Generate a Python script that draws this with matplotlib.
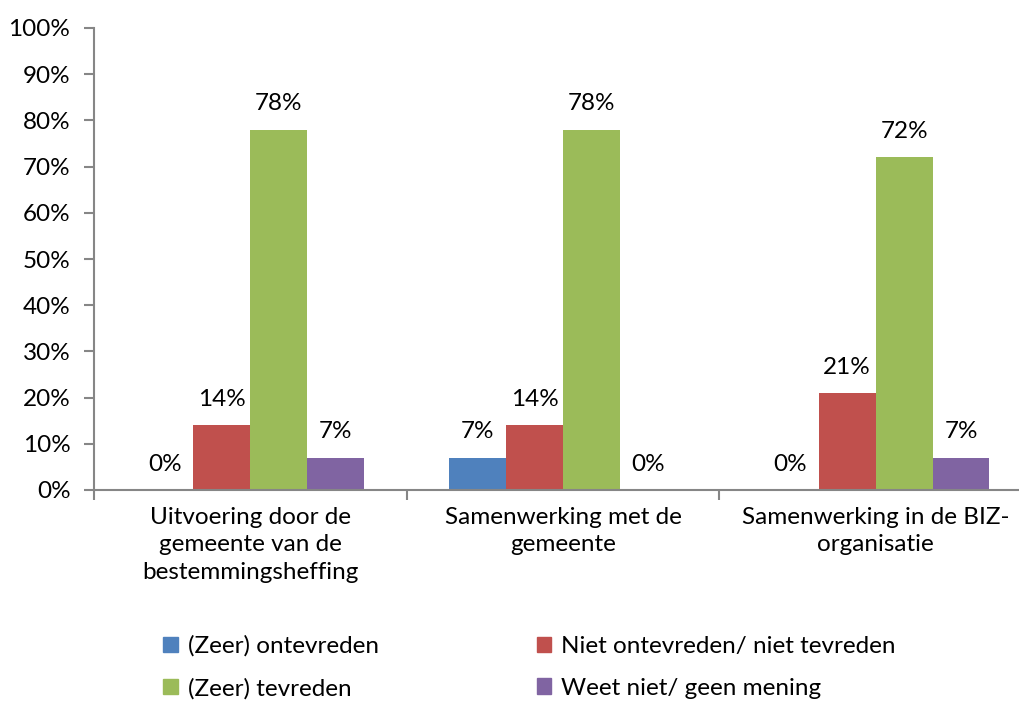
import numpy as np
import matplotlib.pyplot as plt
from matplotlib.patches import Patch

# ======================== Data ========================
categories = ["Uitvoering door de\ngemeente van de\nbestemmingsheffing",
              "Samenwerking met de\ngemeente",
              "Samenwerking in de BIZ-\norganisatie"]
series_names = ["(Zeer) ontevreden", "Niet ontevreden/ niet tevreden",
                "(Zeer) tevreden", "Weet niet/ geen mening"]
zeer_ontevreden = [0, 7, 0]
niet_ontevreden = [14, 14, 21]
zeer_tevreden = [78, 78, 72]
weet_niet = [7, 0, 7]
colors = ["#4F81BD", "#C0504D", "#9BBB59", "#8064A2"]

plt.rcParams['font.family'] = ['Lato', 'DejaVu Sans']
fs = 17.5

fig = plt.figure(figsize=(10.2, 7.04), dpi=100)
ax = fig.add_axes([94 / 1020, 1 - 490 / 704, (1032 - 94) / 1020, (490 - 28) / 704])

x = np.arange(len(categories))
w = 0.182
series = [zeer_ontevreden, niet_ontevreden, zeer_tevreden, weet_niet]
for i, (vals, c) in enumerate(zip(series, colors)):
    pos = x + (i - 1.5) * w
    ax.bar(pos, vals, width=w, color=c, label=series_names[i])
    for xp, v in zip(pos, vals):
        ax.annotate(f"{v}%", (xp, v), xytext=(0, 11), textcoords="offset points",
                    ha="center", va="bottom", fontsize=fs)

ax.set_xlim(-0.5, 2.5)
ax.set_ylim(0, 100)
ax.set_yticks(np.arange(0, 101, 10))
ax.set_yticklabels([f"{t}%" for t in range(0, 101, 10)], fontsize=fs)
ax.set_xticks([-0.5, 0.5, 1.5, 2.5])
ax.set_xticklabels([])
ax.set_xticks(x, minor=True)
ax.set_xticklabels(categories, minor=True, fontsize=fs, linespacing=1.4)
ax.tick_params(axis="x", which="minor", length=0, pad=12)
ax.tick_params(axis="x", which="major", length=7, color="#868686", width=1.5)
ax.tick_params(axis="y", length=7, color="#868686", width=1.5, pad=10)
for s in ["top", "right"]:
    ax.spines[s].set_visible(False)
for s in ["left", "bottom"]:
    ax.spines[s].set_color("#868686")
    ax.spines[s].set_linewidth(1.5)

# legend: row-wise order (blue, red / green, purple)
order = [0, 2, 1, 3]
handles = [Patch(color=colors[i]) for i in order]
labels = [series_names[i] for i in order]
fig.legend(handles, labels, ncol=2, loc="center", bbox_to_anchor=(0.519, 0.052),
           frameon=False, fontsize=fs, handlelength=0.6, handleheight=0.6,
           handletextpad=0.4, columnspacing=6.5, labelspacing=0.85)

fig.savefig("out.png", dpi=100)
